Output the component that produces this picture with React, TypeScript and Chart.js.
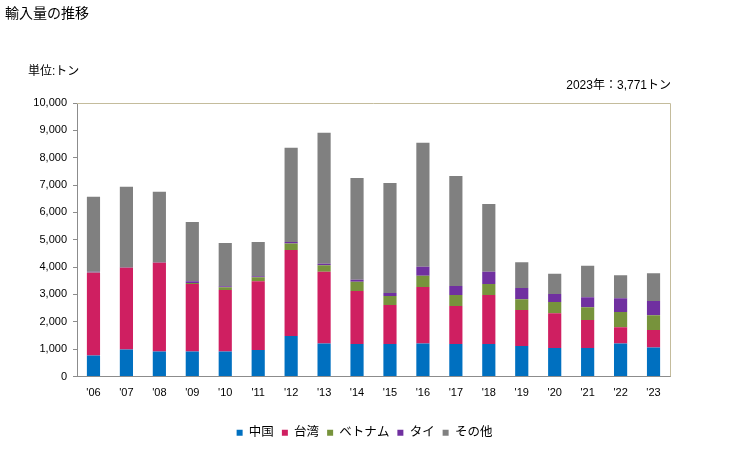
import React, { useEffect, useRef } from "react";
import { Chart, registerables } from "chart.js";

Chart.register(...registerables);

const categories = ["'06", "'07", "'08", "'09", "'10", "'11", "'12", "'13", "'14", "'15", "'16", "'17", "'18", "'19", "'20", "'21", "'22", "'23"];
const china = [770, 990, 917, 917, 917, 966, 1479, 1210, 1186, 1186, 1210, 1186, 1186, 1112, 1039, 1039, 1210, 1064];
const taiwan = [3020, 2983, 3239, 2469, 2249, 2518, 3142, 2616, 1944, 1430, 2066, 1393, 1797, 1321, 1272, 1027, 587, 635];
const vietnam = [10, 10, 10, 37, 98, 147, 245, 245, 330, 330, 404, 404, 403, 391, 415, 465, 562, 538];
const thai = [30, 25, 25, 61, 36, 36, 48, 49, 73, 110, 330, 330, 440, 416, 294, 366, 502, 526];
const others = [2739, 2934, 2567, 2164, 1578, 1247, 3448, 4792, 3729, 4022, 4535, 4022, 2482, 941, 733, 1149, 843, 1008];
const seriesNames = ["中国", "台湾", "ベトナム", "タイ", "その他"];
const seriesColors = ["#0070c0", "#cf1f61", "#77933c", "#7030a0", "#808080"];
const yTicks = [0, 1000, 2000, 3000, 4000, 5000, 6000, 7000, 8000, 9000, 10000];

const titleText = "輸入量の推移";
const unitText = "単位:トン";
const totalText = "2023年：3,771トン";

const FONT = "'Liberation Sans', 'Noto Sans CJK JP', sans-serif";

export default function App() {
  const ref = useRef<HTMLCanvasElement | null>(null);
  useEffect(() => {
    const canvas = ref.current;
    if (!canvas) return;
    const textPlugin = {
      id: "texts",
      afterLayout(chart: any) {
        const lg = chart.legend;
        if (lg) {
          lg.left = 0;
          lg.right = chart.width;
          lg.width = chart.width;
        }
      },
      afterDatasetsDraw(chart: any) {
        const ctx = chart.ctx;
        const a = chart.chartArea;
        ctx.save();
        ctx.strokeStyle = "#c4bc9c";
        ctx.lineWidth = 1;
        ctx.beginPath();
        ctx.moveTo(a.left, a.top + 0.5);
        ctx.lineTo(a.right + 0.5, a.top + 0.5);
        ctx.lineTo(a.right + 0.5, a.bottom);
        ctx.stroke();
        ctx.restore();
      },
      afterDraw(chart: any) {
        const ctx = chart.ctx;
        const a = chart.chartArea;
        ctx.save();
        ctx.fillStyle = "#000";
        ctx.textBaseline = "middle";
        ctx.font = `14px ${FONT}`;
        ctx.textAlign = "left";
        ctx.fillText(titleText, 5, 14);
        ctx.font = `12px ${FONT}`;
        ctx.fillText(unitText, 28, 72);
        ctx.textAlign = "right";
        ctx.fillText(totalText, a.right + 1, 86);
        ctx.restore();
      },
    };
    const data = [china, taiwan, vietnam, thai, others];
    const chart = new Chart(canvas, {
      type: "bar",
      data: {
        labels: categories,
        datasets: seriesNames.map((n, i) => ({
          label: n,
          data: data[i],
          backgroundColor: seriesColors[i],
          borderWidth: 0,
          barPercentage: 0.4,
          categoryPercentage: 1,
        })),
      },
      options: {
        responsive: false,
        animation: false,
        layout: { padding: { left: 0, right: 59, top: 103, bottom: 1 } },
        plugins: {
          legend: {
            position: "bottom",
            labels: {
              boxWidth: 6,
              boxHeight: 6,
              padding: 8,
              color: "#000",
              font: { size: 12.5, family: FONT },
            },
          },
          tooltip: { enabled: false },
          title: { display: false },
        },
        scales: {
          x: {
            stacked: true,
            grid: { display: false },
            border: { display: true, color: "#8c8c8c" },
            ticks: { color: "#000", font: { size: 11, family: FONT }, padding: 2, maxRotation: 0 },
            afterFit: (s: any) => {
              s.height = 42;
            },
          },
          y: {
            stacked: true,
            min: 0,
            max: 10000,
            afterBuildTicks: (s: any) => {
              s.ticks = yTicks.map((v) => ({ value: v }));
            },
            grid: { drawOnChartArea: false, drawTicks: true, tickLength: 4, color: "#8c8c8c" },
            border: { display: true, color: "#8c8c8c" },
            ticks: {
              color: "#000",
              font: { size: 11, family: FONT },
              padding: 6,
              callback: (v: any) => Number(v).toLocaleString("en-US"),
            },
            afterFit: (s: any) => {
              s.width = 77;
            },
          },
        },
      },
      plugins: [textPlugin],
    });
    return () => chart.destroy();
  }, []);
  return (
    <div style={{ position: "absolute", left: 0, top: 0, width: 729, height: 450, background: "#fff" }}>
      <canvas ref={ref} width={729} height={450} style={{ width: 729, height: 450, display: "block" }} />
    </div>
  );
}
